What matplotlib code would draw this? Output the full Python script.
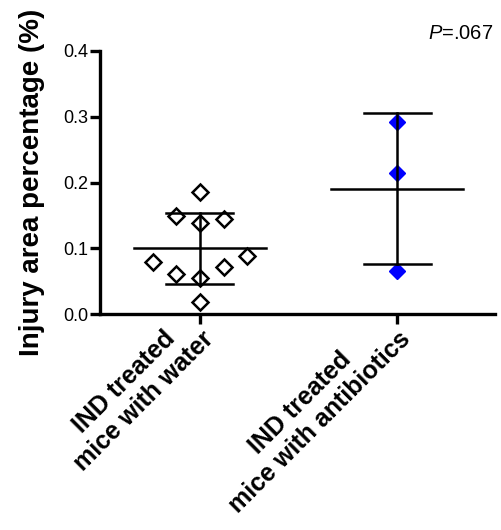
import numpy as np
import matplotlib
matplotlib.use("Agg")
import matplotlib.pyplot as plt
import matplotlib.transforms as mtransforms

plt.rcParams['font.family'] = ['Liberation Sans', 'DejaVu Sans']
plt.rcParams['mathtext.fontset'] = 'custom'
plt.rcParams['mathtext.it'] = 'Liberation Sans:italic'
plt.rcParams['mathtext.rm'] = 'Liberation Sans'

categories = ['IND treated\nmice with water', 'IND treated\nmice with antibiotics']
# group 1 (water): offsets in category units and values
water_dx = [0.0, -0.12, 0.12, 0.0, -0.24, 0.24, -0.12, 0.12, 0.0, 0.0]
water_y = [0.185, 0.149, 0.145, 0.138, 0.0795, 0.0876, 0.0613, 0.0709, 0.0547, 0.0177]
abx_dx = [0.0, 0.0, 0.0]
abx_y = [0.2916, 0.214, 0.0658]
means = [0.0997, 0.190]
sd_hi = [0.153, 0.305]
sd_lo = [0.046, 0.076]
yticks = [0.0, 0.1, 0.2, 0.3, 0.4]

fig = plt.figure(figsize=(5.02, 5.30), dpi=100)
ax = fig.add_axes([0.199, 0.4075, 0.787, 0.4963])

ax.plot(np.array(water_dx) + 0, water_y, linestyle='none', marker='D', markersize=8.5,
        markerfacecolor='none', markeredgecolor='black', markeredgewidth=1.8, zorder=2)
ax.plot(np.array(abx_dx) + 1, abx_y, linestyle='none', marker='D', markersize=8.5,
        markerfacecolor='#0000ff', markeredgecolor='#0000ff', zorder=2)

for i in range(len(categories)):
    ax.plot([i - 0.335, i + 0.335], [means[i], means[i]], color='black', lw=1.8, zorder=3)
    ax.plot([i, i], [sd_lo[i], sd_hi[i]], color='black', lw=1.8, zorder=3)
    for v in (sd_lo[i], sd_hi[i]):
        ax.plot([i - 0.17, i + 0.17], [v, v], color='black', lw=1.8, zorder=3)

ax.set_xlim(-0.508, 1.497)
ax.set_ylim(0, 0.4)
ax.set_yticks(yticks)
ax.set_yticklabels(['%.1f' % t for t in yticks], fontsize=13)
ax.set_xticks(range(len(categories)))
ax.set_xticklabels(categories, rotation=45, ha='right', va='center', rotation_mode='anchor',
                   fontsize=18, fontweight='bold', ma='center', linespacing=1.2)
off = mtransforms.ScaledTranslation(14 / 100, -12 / 100, fig.dpi_scale_trans)
for lab in ax.get_xticklabels():
    lab.set_transform(lab.get_transform() + off)
ax.set_ylabel('Injury area percentage (%)', fontsize=20, fontweight='bold', labelpad=13)

for s in ('top', 'right'):
    ax.spines[s].set_visible(False)
for s in ('left', 'bottom'):
    ax.spines[s].set_linewidth(2.4)
ax.tick_params(axis='both', width=2.4, length=7.5, direction='out', pad=1)

fig.text(0.982, 0.936, r'$P$=.067', ha='right', va='center', fontsize=14.5)

fig.savefig('out.png', dpi=100)
